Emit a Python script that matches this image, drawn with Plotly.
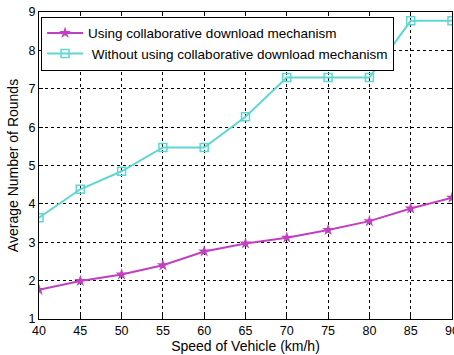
import plotly.graph_objects as go

speed = [40, 45, 50, 55, 60, 65, 70, 75, 80, 85, 90]
with_collab = [1.76, 1.99, 2.16, 2.40, 2.76, 2.97, 3.12, 3.32, 3.55, 3.88, 4.16]
without_collab = [3.64, 4.38, 4.85, 5.47, 5.47, 6.27, 7.29, 7.29, 7.29, 8.77, 8.77]

x_ticks = [40, 45, 50, 55, 60, 65, 70, 75, 80, 85, 90]
y_ticks = [1, 2, 3, 4, 5, 6, 7, 8, 9]

FONT = "Liberation Sans, Arial"

fig = go.Figure()
fig.add_trace(go.Scatter(
    x=speed, y=with_collab, mode="lines+markers",
    name="Using collaborative download mechanism",
    line=dict(color="#C040C0", width=2),
    marker=dict(symbol="star", size=9, color="#C040C0"),
))
fig.add_trace(go.Scatter(
    x=speed, y=without_collab, mode="lines+markers",
    name=" Without using collaborative download mechanism",
    line=dict(color="#60D6D2", width=2),
    marker=dict(symbol="square-open", size=8, color="#60D6D2", line=dict(width=1.5)),
))

axis_common = dict(
    showline=True, linecolor="black", linewidth=1, mirror="ticks",
    ticks="inside", ticklen=4, tickcolor="black",
    showgrid=True, gridcolor="black", griddash="dot", gridwidth=1,
    zeroline=False, automargin=False,
    tickfont=dict(family=FONT, size=12.5, color="black"),
)

fig.update_xaxes(
    range=[40, 90], tickvals=x_ticks, ticklabeloverflow="allow",
    title=dict(text="Speed of Vehicle (km/h)", font=dict(family=FONT, size=14, color="black"), standoff=3),
    **axis_common,
)
fig.update_yaxes(
    range=[1, 9], tickvals=y_ticks,
    title=dict(text="Average Number of Rounds", font=dict(family=FONT, size=14, color="black"), standoff=6),
    **axis_common,
)

fig.update_layout(
    width=454, height=355,
    margin=dict(l=39, r=2, t=12, b=36),
    plot_bgcolor="white", paper_bgcolor="white",
    legend=dict(
        x=0.005, y=0.985, xanchor="left", yanchor="top",
        bgcolor="white", bordercolor="black", borderwidth=1,
        font=dict(family=FONT, size=13.5, color="black"),
        tracegroupgap=0, itemwidth=36,
    ),
)

fig.write_html("out.html")
